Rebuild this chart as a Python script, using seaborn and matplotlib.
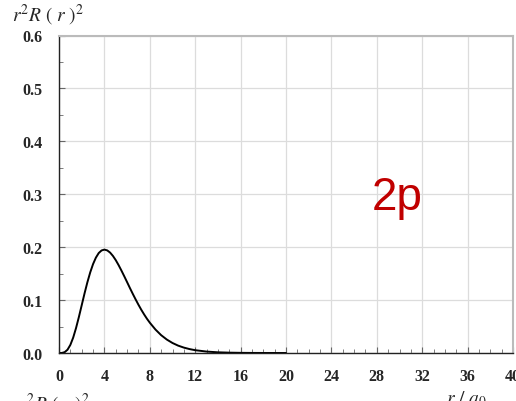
import matplotlib
matplotlib.use("Agg")
import matplotlib.pyplot as plt
import seaborn as sns
import pandas as pd
from matplotlib.ticker import MultipleLocator

# values
r_vals = [0, 0.25, 0.5, 0.75, 1, 1.25, 1.5, 1.75, 2, 2.25, 2.5, 2.75, 3, 3.25,
          3.5, 3.75, 4, 4.25, 4.5, 4.75, 5, 5.25, 5.5, 5.75, 6, 6.25, 6.5,
          6.75, 7, 7.25, 7.5, 7.75, 8, 8.5, 9, 9.5, 10, 10.5, 11, 11.5, 12,
          13, 14, 15, 16, 17, 18, 20]
p_vals = [0.0, 0.0001, 0.0016, 0.0062, 0.0153, 0.0291, 0.0471, 0.0679, 0.0902,
          0.1126, 0.1336, 0.1523, 0.1680, 0.1802, 0.1889, 0.1938, 0.1954,
          0.1939, 0.1898, 0.1835, 0.1755, 0.1661, 0.1558, 0.1450, 0.1339,
          0.1227, 0.1118, 0.1013, 0.0912, 0.0817, 0.0729, 0.0647, 0.0573,
          0.0443, 0.0337, 0.0254, 0.0189, 0.0139, 0.0102, 0.0074, 0.0053,
          0.0027, 0.0013, 0.00065, 0.0003, 0.00014, 0.00006, 0.00001]
x_ticks = [0, 4, 8, 12, 16, 20, 24, 28, 32, 36, 40]
y_ticks = [0.0, 0.1, 0.2, 0.3, 0.4, 0.5, 0.6]
label_text = "2p"

df = pd.DataFrame({"r": r_vals, "p": p_vals})

sns.set_style("white")
fig = plt.figure(figsize=(5.16, 4.02), dpi=100)
ax = fig.add_axes([59/516, 1-354/402, (513-59)/516, (354-36.5)/402])

sns.lineplot(data=df, x="r", y="p", ax=ax, color="black", linewidth=1.4)

ax.set_xlim(0, 40)
ax.set_ylim(0, 0.6)
ax.set_xticks(x_ticks)
ax.set_yticks(y_ticks)
ax.set_xticklabels([str(t) for t in x_ticks])
ax.set_yticklabels([f"{t:.1f}" for t in y_ticks])
ax.xaxis.set_minor_locator(MultipleLocator(1))
ax.yaxis.set_minor_locator(MultipleLocator(0.05))
ax.grid(True, which="major", color="#dcdcdc", linewidth=0.9)
ax.set_axisbelow(True)

for lab in ax.get_xticklabels() + ax.get_yticklabels():
    lab.set_family("Liberation Serif")
    lab.set_fontweight("bold")
    lab.set_fontsize(11.5)

ax.tick_params(axis="x", which="major", direction="in", length=4, color="#666666", pad=11)
ax.tick_params(axis="x", which="minor", direction="in", length=3, color="#666666")
ax.tick_params(axis="y", which="major", direction="in", length=4, color="#666666", pad=12)
ax.tick_params(axis="y", which="minor", direction="in", length=3, color="#666666")
ax.tick_params(bottom=True, left=True, which="both")

ax.spines["left"].set_color("#222222")
ax.spines["bottom"].set_color("#222222")
ax.spines["left"].set_linewidth(1.0)
ax.spines["bottom"].set_linewidth(1.0)
ax.spines["top"].set_color("#bbbbbb")
ax.spines["right"].set_color("#bbbbbb")
ax.spines["top"].set_linewidth(1.5)
ax.spines["right"].set_linewidth(1.5)

ax.set_xlabel("")
ax.set_ylabel("")

fig.text(12/516, 1-22/402, r"$r^2R\ (\ r\ )^2$", fontsize=14, family="Liberation Serif",
         va="baseline", ha="left", math_fontfamily="stix")
fig.text(466/516, 1-404/402, r"$r\ /\ a_0$", fontsize=14, family="Liberation Serif",
         va="baseline", ha="center", math_fontfamily="stix")
fig.text(18/516, 1-411/402, r"$r^2R\ (\ r\ )^2$", fontsize=14, family="Liberation Serif",
         va="baseline", ha="left", math_fontfamily="stix")

ax.text(29.8, 0.272, label_text, color="#c00000", fontsize=33, family="Liberation Sans",
        ha="center", va="baseline")

fig.savefig("out.png", dpi=100)
